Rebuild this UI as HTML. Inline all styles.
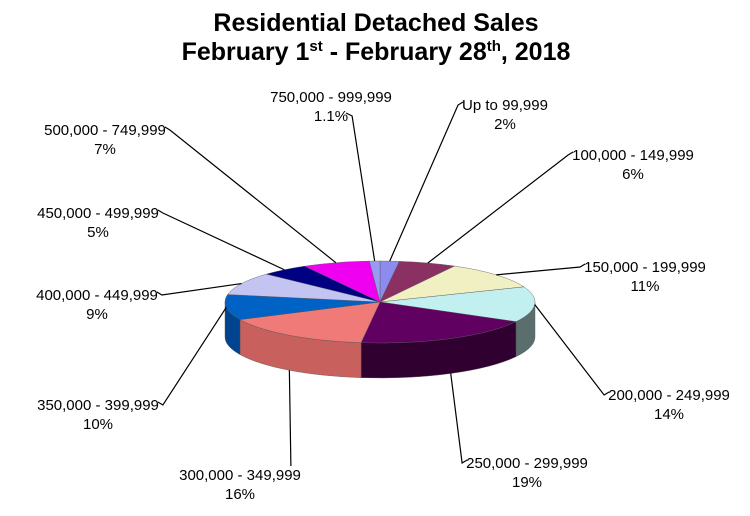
<!DOCTYPE html>
<html><head><meta charset="utf-8"><style>
body{margin:0;background:#fff;}
svg{display:block;font-family:"Liberation Sans",Arial,sans-serif;}
</style></head><body>
<svg id="chart" width="750" height="516" viewBox="0 0 750 516">
<text x="376" y="31" text-anchor="middle" font-size="25" font-weight="bold">Residential Detached Sales</text>
<text x="376" y="60" text-anchor="middle" font-size="25" font-weight="bold">February 1<tspan font-size="15" dy="-9">st</tspan><tspan dy="9"> - February 28</tspan><tspan font-size="15" dy="-9">th</tspan><tspan dy="9">, 2018</tspan></text>
<g id="pie"></g>
<g id="labels"></g>
</svg>
<script>
const categories=["Up to 99,999","100,000 - 149,999","150,000 - 199,999","200,000 - 249,999","250,000 - 299,999","300,000 - 349,999","350,000 - 399,999","400,000 - 449,999","450,000 - 499,999","500,000 - 749,999","750,000 - 999,999"];
const values=[2,6,11,14,19,16,10,9,5,7,1.1];
const valueLabels=["2%","6%","11%","14%","19%","16%","10%","9%","5%","7%","1.1%"];
const colors=["#8c8cee","#8b3062","#f0f0c2","#c2f0f0","#600060","#f07a78","#0062c4","#c4c4f2","#000082","#f000f0","#9a9af2"];
const sideColors=["#5c5cae","#5b1a3e","#a8a888","#5a6e6e","#300030","#c8605e","#004490","#8888b8","#000050","#a000a0","#6a6ab0"];
const labelPos=[[505,110],[633,160],[645,272],[669,400],[527,468],[240,480],[98,410],[97,300],[98,218],[105,135],[331,102]];
const cx=380,cy=302,rx=155,ry=41,depth=35;
const NS="http://www.w3.org/2000/svg";
const pie=document.getElementById('pie'),lab=document.getElementById('labels');
const total=values.reduce((a,b)=>a+b,0);
function pt(a,dy){return [cx+rx*Math.cos(a),cy+ry*Math.sin(a)+(dy||0)];}
let angles=[];let a=-Math.PI/2;
values.forEach(v=>{const b=a+v/total*2*Math.PI;angles.push([a,b]);a=b;});
angles.forEach(([a1,a2],i)=>{
  for(let k=-1;k<=1;k++){
    let s=Math.max(a1,0+k*2*Math.PI),e=Math.min(a2,Math.PI+k*2*Math.PI);
    if(e<=s)continue;
    const p1=pt(s),p2=pt(e),p3=pt(e,depth),p4=pt(s,depth);
    const p=document.createElementNS(NS,'path');
    
    
    p.setAttribute('d',`M${p1}A${rx},${ry} 0 0 1 ${p2}L${p3}A${rx},${ry} 0 0 0 ${p4}Z`);
    p.setAttribute('fill',sideColors[i]);p.setAttribute('stroke','#555');p.setAttribute('stroke-width','0.4');
    pie.appendChild(p);
  }
});
angles.forEach(([a1,a2],i)=>{
  const p1=pt(a1),p2=pt(a2),large=(a2-a1)>Math.PI?1:0;
  const p=document.createElementNS(NS,'path');
  
  
  p.setAttribute('d',`M${cx},${cy}L${p1}A${rx},${ry} 0 ${large} 1 ${p2}Z`);
  p.setAttribute('fill',colors[i]);p.setAttribute('stroke','#555');p.setAttribute('stroke-width','0.4');
  pie.appendChild(p);
  const [lx,ly]=labelPos[i];
  const t=document.createElementNS(NS,'text');
  
  
  t.setAttribute('x',lx);t.setAttribute('y',ly);t.setAttribute('text-anchor','middle');t.setAttribute('font-size','15');
  const t1=document.createElementNS(NS,'tspan');t1.setAttribute('x',lx);t1.textContent=categories[i];
  const t2=document.createElementNS(NS,'tspan');t2.setAttribute('x',lx);t2.setAttribute('dy','19');t2.textContent=valueLabels[i];
  t.appendChild(t1);t.appendChild(t2);lab.appendChild(t);
  const m=(a1+a2)/2;let q=pt(m);
  if(Math.sin(m)>0.3)q=pt(m,depth);
  const b1=t1.getBBox(),b2=t2.getBBox();
  let ax,ay,hx;
  if(i===10){ax=b2.x+b2.width+4;ay=ly+14;hx=ax-6;}
  else if(i===5){ax=b1.x+b1.width-10;ay=ly-14;hx=ax;}
  else if(lx>cx){ax=b1.x-4;ay=ly-5;hx=ax+5;}
  else{ax=b1.x+b1.width+4;ay=ly-5;hx=ax-5;}
  const l=document.createElementNS(NS,'polyline');
  
  
  l.setAttribute('points',`${q[0]},${q[1]} ${ax},${ay} ${hx},${i===5?ay:ay-3}`);
  l.setAttribute('fill','none');l.setAttribute('stroke','#000');l.setAttribute('stroke-width','1.2');
  lab.appendChild(l);
});
</script>
</body></html>
